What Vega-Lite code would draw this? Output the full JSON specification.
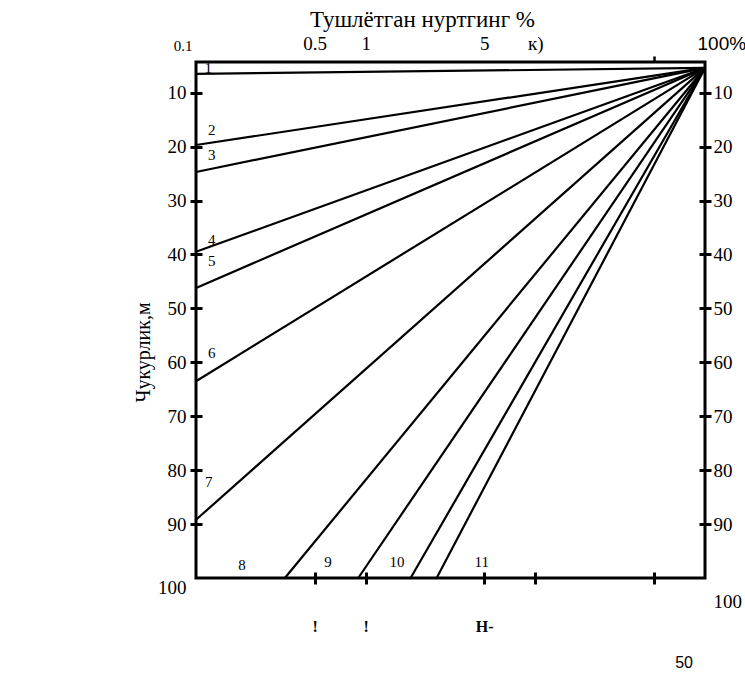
{
  "$schema": "https://vega.github.io/schema/vega-lite/v6.json",
  "width": 509,
  "height": 516,
  "autosize": {"type": "none"},
  "padding": {"left": 196, "top": 62, "right": 40, "bottom": 98},
  "background": "white",
  "title": {"text": "50", "orient": "bottom", "anchor": "end", "frame": "group", "font": "Liberation Sans", "fontSize": 16, "fontWeight": "normal", "color": "black", "offset": 21, "dx": -12},
  "config": {
    "view": {"stroke": "black", "strokeWidth": 3},
    "axis": {"grid": false, "domain": false, "labelColor": "black", "titleColor": "black", "labelOverlap": false, "labelFlush": false, "labelBound": false}
  },
  "datasets": {
    "lines": [
      {"id": "1", "x": 0.1, "y": 6.5}, {"id": "1", "x": 100, "y": 5.4},
      {"id": "2", "x": 0.1, "y": 19.7}, {"id": "2", "x": 100, "y": 5.4},
      {"id": "3", "x": 0.1, "y": 24.7}, {"id": "3", "x": 100, "y": 5.4},
      {"id": "4", "x": 0.1, "y": 39.5}, {"id": "4", "x": 100, "y": 5.4},
      {"id": "5", "x": 0.1, "y": 46.2}, {"id": "5", "x": 100, "y": 5.4},
      {"id": "6", "x": 0.1, "y": 63.5}, {"id": "6", "x": 100, "y": 5.4},
      {"id": "7", "x": 0.1, "y": 89.2}, {"id": "7", "x": 100, "y": 5.4},
      {"id": "8", "x": 0.334, "y": 100}, {"id": "8", "x": 100, "y": 5.4},
      {"id": "9", "x": 0.904, "y": 100}, {"id": "9", "x": 100, "y": 5.4},
      {"id": "10", "x": 1.84, "y": 100}, {"id": "10", "x": 100, "y": 5.4},
      {"id": "11", "x": 2.62, "y": 100}, {"id": "11", "x": 100, "y": 5.4}
    ],
    "labels": [
      {"label": "1", "x": 0.118, "y": 5.4},
      {"label": "2", "x": 0.124, "y": 16.9},
      {"label": "3", "x": 0.124, "y": 21.6},
      {"label": "4", "x": 0.124, "y": 37.3},
      {"label": "5", "x": 0.124, "y": 41.2},
      {"label": "6", "x": 0.124, "y": 58.3},
      {"label": "7", "x": 0.119, "y": 82.2},
      {"label": "8", "x": 0.187, "y": 97.6},
      {"label": "9", "x": 0.599, "y": 97.0},
      {"label": "10", "x": 1.53, "y": 97.0},
      {"label": "11", "x": 4.83, "y": 97.0}
    ]
  },
  "layer": [
    {
      "data": {"name": "lines"},
      "mark": {"type": "line", "color": "black", "strokeWidth": 2.2, "clip": false},
      "encoding": {
        "x": {
          "field": "x", "type": "quantitative",
          "scale": {"type": "log", "domain": [0.1, 100], "nice": false},
          "axis": {
            "orient": "bottom", "title": null, "offset": -6,
            "values": [0.5, 1, 5, 10, 50],
            "tickSize": 12, "tickWidth": 3, "tickColor": "black",
            "labelExpr": "datum.value == 0.5 ? '!' : datum.value == 1 ? '!' : datum.value == 5 ? 'H-' : ''",
            "labelFont": "Liberation Serif", "labelFontSize": 16, "labelFontWeight": "bold", "labelPadding": 34
          }
        },
        "y": {
          "field": "y", "type": "quantitative",
          "scale": {"domain": [4.3, 100], "reverse": true, "nice": false, "zero": false},
          "axis": {
            "orient": "left", "title": "Чукурлик,м", "offset": -6,
            "values": [10, 20, 30, 40, 50, 60, 70, 80, 90, 100],
            "tickSize": 12, "tickWidth": 3,
            "tickColor": {"condition": {"test": "datum.value == 100", "value": "transparent"}, "value": "black"},
            "labelFont": "Liberation Serif", "labelFontSize": 19, "labelPadding": 4,
            "labelOffset": {"condition": {"test": "datum.value == 100", "value": 9}, "value": 0},
            "titleFont": "Liberation Serif", "titleFontSize": 20, "titleFontWeight": "normal",
            "titleX": -59, "titleY": 290, "titleBaseline": "middle", "titleAlign": "center", "titleAngle": -90
          }
        },
        "detail": {"field": "id", "type": "nominal"}
      }
    },
    {
      "data": {"name": "labels"},
      "mark": {"type": "text", "font": "Liberation Serif", "fontSize": 15, "fill": "black", "align": "center", "baseline": "middle"},
      "encoding": {
        "x": {
          "field": "x", "type": "quantitative",
          "axis": {
            "orient": "top", "title": "Тушлётган нуртгинг %",
            "values": [0.1, 0.5, 1, 5, 10, 50, 100],
            "tickSize": 6, "tickWidth": 2.5,
            "tickColor": {"condition": {"test": "datum.value == 50", "value": "black"}, "value": "transparent"},
            "labelExpr": "datum.value == 0.1 ? '0.1' : datum.value == 0.5 ? '0.5' : datum.value == 1 ? '1' : datum.value == 5 ? '5' : datum.value == 10 ? 'к)' : datum.value == 100 ? '100%' : ''",
            "labelFont": {"condition": {"test": "datum.value == 100", "value": "Liberation Sans"}, "value": "Liberation Serif"},
            "labelFontSize": {"condition": {"test": "datum.value == 0.1", "value": 15}, "value": 19},
            "labelAlign": {"condition": [{"test": "datum.value == 0.1", "value": "right"}, {"test": "datum.value == 100", "value": "left"}], "value": "center"},
            "labelOffset": {"condition": [{"test": "datum.value == 0.1", "value": -4}, {"test": "datum.value == 100", "value": -8}], "value": 0},
            "labelPadding": 3,
            "titleFont": "Liberation Serif", "titleFontSize": 23, "titleFontWeight": "normal",
            "titleX": 226, "titleY": -36, "titleBaseline": "alphabetic", "titleAlign": "center"
          }
        },
        "y": {
          "field": "y", "type": "quantitative",
          "axis": {
            "orient": "right", "title": null, "offset": -6,
            "values": [10, 20, 30, 40, 50, 60, 70, 80, 90, 100],
            "tickSize": 12, "tickWidth": 3,
            "tickColor": {"condition": {"test": "datum.value == 100", "value": "transparent"}, "value": "black"},
            "labelFont": "Liberation Serif", "labelFontSize": 19, "labelPadding": 2,
            "labelOffset": {"condition": {"test": "datum.value == 100", "value": 23}, "value": 0}
          }
        },
        "text": {"field": "label", "type": "nominal"}
      }
    }
  ],
  "resolve": {"axis": {"x": "independent", "y": "independent"}}
}
